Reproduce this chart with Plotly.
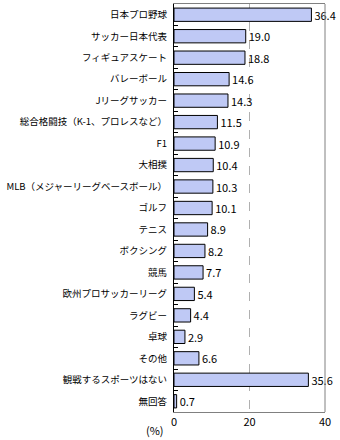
import plotly.graph_objects as go

categories = [
    "日本プロ野球", "サッカー日本代表", "フィギュアスケート", "バレーボール",
    "Jリーグサッカー", "総合格闘技（K-1、プロレスなど）", "F1", "大相撲",
    "MLB（メジャーリーグベースボール）", "ゴルフ", "テニス", "ボクシング",
    "競馬", "欧州プロサッカーリーグ", "ラグビー", "卓球", "その他",
    "観戦するスポーツはない", "無回答",
]
values = [36.4, 19.0, 18.8, 14.6, 14.3, 11.5, 10.9, 10.4, 10.3, 10.1,
          8.9, 8.2, 7.7, 5.4, 4.4, 2.9, 6.6, 35.6, 0.7]
x_ticks = [0, 20, 40]

FONT = "Noto Sans CJK JP"

fig = go.Figure()
fig.add_trace(go.Bar(
    x=values, y=categories, orientation="h",
    marker=dict(color="#bfc9f5", line=dict(color="#000000", width=1)),
    texttemplate="%{x:.1f}", textposition="outside",
    textfont=dict(family=FONT, size=11, color="#000000"),
    constraintext="none",
    cliponaxis=False,
))

fig.update_layout(
    width=340, height=440,
    margin=dict(l=174, r=15, t=4, b=28, autoexpand=False),
    paper_bgcolor="white", plot_bgcolor="white",
    showlegend=False,
    bargap=0.38,
    font=dict(family=FONT, size=11, color="#000000"),
    xaxis=dict(
        range=[0, 40], tickvals=x_ticks, ticks="",
        showgrid=True, gridcolor="#b0b0b0", griddash="dash", gridwidth=1,
        showline=True, linecolor="#808080", linewidth=1, mirror=True,
        zeroline=False, tickfont=dict(family=FONT, size=11),
        automargin=False,
    ),
    yaxis=dict(
        autorange="reversed", type="category",
        tickson="boundaries", ticks="inside", ticklen=4, tickcolor="#000000",
        showline=True, linecolor="#000000", linewidth=1,
        showgrid=False, tickfont=dict(family=FONT, size=9.5),
        ticklabelstandoff=4, automargin=False,
    ),
    shapes=[dict(type="line", xref="paper", yref="paper", x0=1, x1=1, y0=0, y1=1,
                 line=dict(color="#808080", width=1))],
    annotations=[dict(text="(%)", xref="paper", yref="paper", x=-0.05, y=0,
                      xanchor="right", yanchor="top", yshift=-8, showarrow=False,
                      font=dict(family=FONT, size=11))],
)

fig.write_html("out.html")
